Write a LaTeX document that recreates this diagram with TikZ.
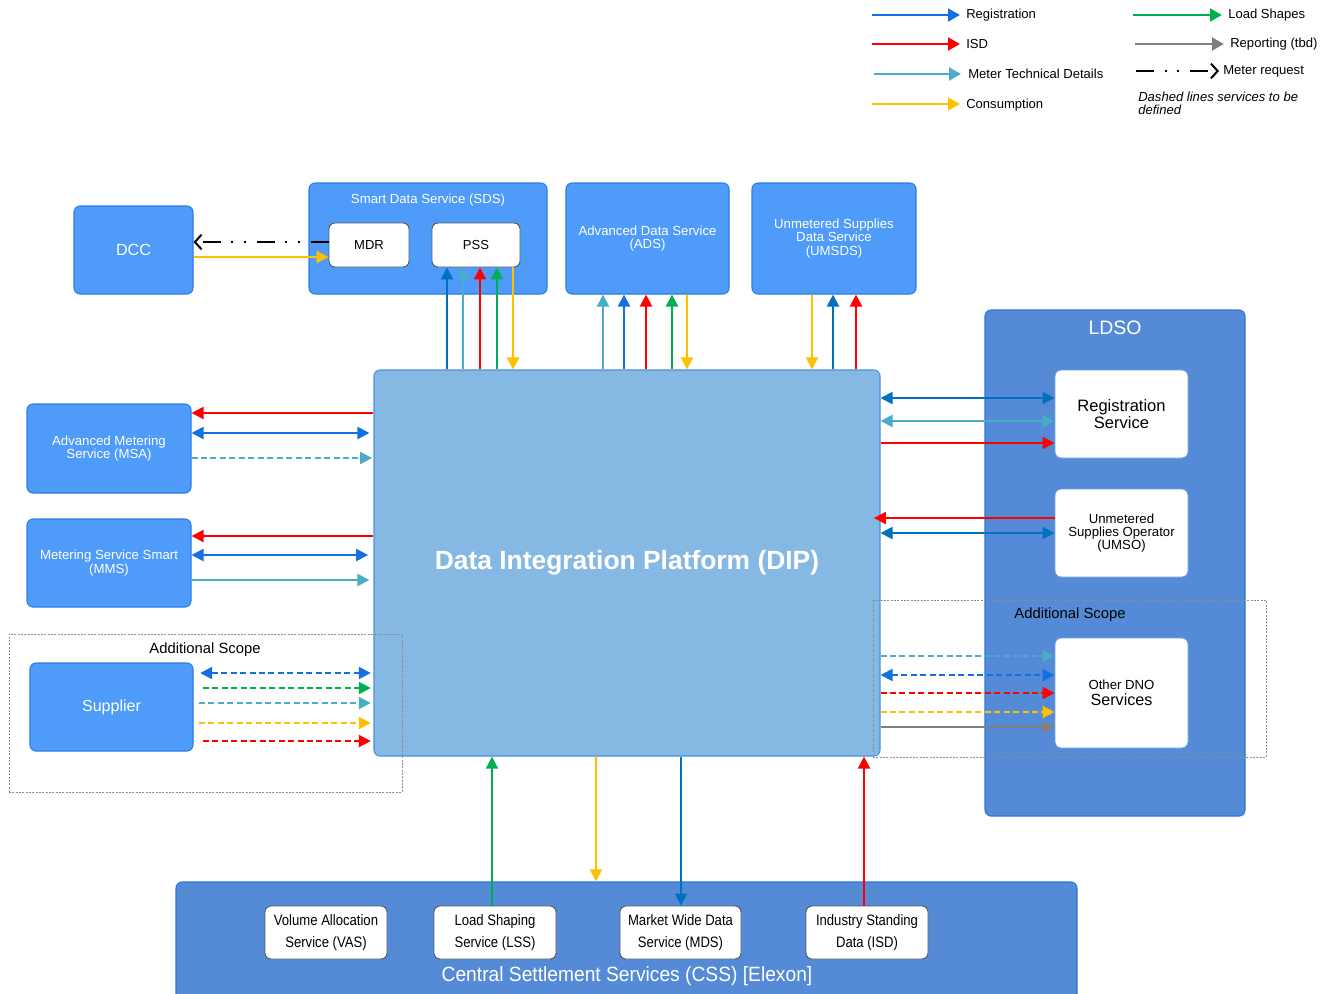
\documentclass[tikz,border=0pt]{standalone}
\usepackage{fontspec}
\setmainfont{Liberation Sans}
\usetikzlibrary{arrows.meta}

% palette
\definecolor{boxfill}{RGB}{79,155,250}
\definecolor{boxedge}{RGB}{42,125,230}
\definecolor{dipfill}{RGB}{133,184,227}
\definecolor{dipedge}{RGB}{74,144,226}
\definecolor{grpfill}{RGB}{85,139,214}
\definecolor{grpedge}{RGB}{40,120,222}
\definecolor{inedge}{RGB}{80,90,100}
\definecolor{regA}{RGB}{20,112,225}
\definecolor{regB}{RGB}{0,112,192}
\definecolor{isd}{RGB}{255,0,0}
\definecolor{mtd}{RGB}{75,172,198}
\definecolor{cons}{RGB}{255,192,0}
\definecolor{lshape}{RGB}{0,176,80}
\definecolor{report}{RGB}{128,128,128}
\definecolor{scopeline}{RGB}{140,140,140}

\newcommand\fsz[2]{\fontsize{#1}{#2}\selectfont}

\begin{document}
\begin{tikzpicture}[x=0.75pt,y=-0.75pt,
  % a node spanning the pixel box (x1,y1)-(x2,y2)
  span/.style n args={4}{at={({(#1+#3)/2},{(#2+#4)/2})},
    minimum width={(#3-#1)*0.75pt},minimum height={(#4-#2)*0.75pt}},
  bluebox/.style={draw=boxedge,fill=boxfill,rounded corners=4.5pt,line width=0.8pt,
    inner sep=0pt,text=white,align=center,font=\fsz{9.9}{9.9}},
  grpbox/.style={draw=grpedge,fill=grpfill,rounded corners=4.5pt,line width=0.8pt,inner sep=0pt},
  dipbox/.style={draw=dipedge,fill=dipfill,rounded corners=4.5pt,line width=0.8pt,inner sep=0pt,
    text=white,font=\bfseries\fsz{19.8}{22}},
  inbox/.style={draw=inedge,fill=white,rounded corners=4.5pt,line width=0.7pt,inner sep=0pt,
    align=center,font=\fsz{9.8}{10}},
  ldsobox/.style={draw=grpedge!70!white,fill=white,rounded corners=4.5pt,line width=0.7pt,
    inner sep=0pt,align=center},
  cssbox/.style={draw=inedge,fill=white,rounded corners=4.5pt,line width=0.7pt,inner sep=0pt,
    align=center,font=\fsz{11.3}{16.5}\addfontfeatures{FakeStretch=0.87}},
  scope/.style={draw=scopeline,line width=0.6pt,dash pattern=on 1.5pt off 1pt,inner sep=0pt},
  tri/.tip={Triangle[length=9pt,width=9pt]},
  link/.style={line width=1.6pt,-tri},
  both/.style={line width=1.6pt,tri-tri},
  dsh/.style={dash pattern=on 4.5pt off 2.6pt},
  meterreq/.style={line width=1.5pt,dash pattern=on 13.5pt off 8pt on 1.5pt off 8pt on 1.5pt off 8pt,
    -{Straight Barb[length=5pt,width=11pt,line width=1.5pt]}},
  legline/.style={line width=2.2pt,-{Triangle[length=9pt,width=9.5pt]}},
  legtext/.style={anchor=west,inner sep=0pt,font=\fsz{9.8}{10}}]

\useasboundingbox (0,0) rectangle (1333,993);

% ---------- legend ----------
\coordinate (l1a) at (872,15);  \coordinate (l1b) at (960,15);
\coordinate (l2a) at (872,44);  \coordinate (l2b) at (960,44);
\coordinate (l3a) at (874,74);  \coordinate (l3b) at (961,74);
\coordinate (l4a) at (872,104); \coordinate (l4b) at (960,104);
\coordinate (l5a) at (1133,15); \coordinate (l5b) at (1222,15);
\coordinate (l6a) at (1135,44); \coordinate (l6b) at (1224,44);
\coordinate (l7a) at (1136,71); \coordinate (l7b) at (1219,71);
\draw[legline,regA] (l1a) -- (l1b);
\draw[legline,isd] (l2a) -- (l2b);
\draw[legline,mtd] (l3a) -- (l3b);
\draw[legline,cons] (l4a) -- (l4b);
\draw[legline,lshape] (l5a) -- (l5b);
\draw[legline,report] (l6a) -- (l6b);
\draw[meterreq] (l7a) -- (l7b);
\node[legtext] (t1) at (966,15) {Registration};
\node[legtext] (t2) at (966,44) {ISD};
\node[legtext] (t3) at (968,74) {Meter Technical Details};
\node[legtext] (t4) at (966,105) {Consumption};
\node[legtext] (t5) at (1228,15) {Load Shapes};
\node[legtext] (t6) at (1230,44) {Reporting (tbd)};
\node[legtext] (t7) at (1223,71) {Meter request};
\node[anchor=north west,inner sep=0pt,align=left,font=\itshape\fsz{9.8}{9.8}] (t8) at (1138,92)
  {Dashed lines services to be\\defined};

% ---------- group containers ----------
\node[grpbox,span={985}{310}{1245}{816}] (ldso) {};
\node[text=white,font=\fsz{14.6}{15}] (ldsotitle) at (1115,328) {LDSO};
\node[grpbox,span={176}{882}{1077}{1010}] (css) {};
\node[text=white,font=\fsz{15.5}{16}\addfontfeatures{FakeStretch=0.93}] (csstitle) at (627,976)
  {Central Settlement Services (CSS) [Elexon]};

% ---------- top services ----------
\node[bluebox,font=\fsz{12.1}{12},span={74}{206}{193}{294}] (dcc) {DCC};
\node[bluebox,span={309}{183}{547}{294}] (sds) {};
\node[text=white,font=\fsz{9.9}{10}] (sdstitle) at (428,200) {Smart Data Service (SDS)};
\node[inbox,span={329}{223}{409}{267}] (mdr) {MDR};
\node[inbox,span={432}{223}{520}{267}] (pss) {PSS};
\node[bluebox,span={566}{183}{729}{294}] (ads) {Advanced Data Service\\(ADS)};
\node[bluebox,span={752}{183}{916}{294}] (umsds) {Unmetered Supplies\\Data Service\\(UMSDS)};

% ---------- metering services ----------
\node[bluebox,span={27}{404}{191}{493}] (msa) {Advanced Metering\\Service (MSA)};
\node[bluebox,span={27}{519}{191}{607}] (mms) {Metering Service Smart\\(MMS)};
\node[bluebox,font=\fsz{12}{12},span={30}{663}{193}{751}] (sup) {Supplier};

% ---------- platform ----------
\node[dipbox,span={374}{370}{880}{756}] (dip) {Data Integration Platform (DIP)};

% ---------- LDSO services ----------
\node[ldsobox,font=\fsz{12.4}{12.4},span={1055}{370}{1188}{458}] (rs) {Registration\\Service};
\node[ldsobox,font=\fsz{9.9}{9.8},span={1055}{489}{1188}{577}] (umso) {Unmetered\\Supplies Operator\\(UMSO)};
\node[ldsobox,span={1055}{638}{1188}{748}] (dno) {{\fsz{9.9}{11}Other DNO}\\{\fsz{12.1}{12}Services}};

% ---------- settlement services ----------
\node[cssbox,span={265}{906}{387}{959}] (vas) {Volume Allocation\\Service (VAS)};
\node[cssbox,span={434}{906}{556}{959}] (lss) {Load Shaping\\Service (LSS)};
\node[cssbox,span={620}{906}{741}{959}] (mds) {Market Wide Data\\Service (MDS)};
\node[cssbox,span={806}{906}{928}{959}] (isdb) {Industry Standing\\Data (ISD)};

% ---------- additional scope frames ----------
\node[scope,span={9}{634}{402}{792}] (scopeL) {};
\node[font=\fsz{11.1}{11}] (scopeLt) at (205,650) {Additional Scope};
\node[scope,span={873}{600}{1266}{757}] (scopeR) {};
\node[font=\fsz{11.1}{11}] (scopeRt) at (1070,615) {Additional Scope};

% ---------- DCC / SDS ----------
\draw[meterreq] (mdr.west |- 0,242) -- (dcc.east |- 0,242);
\draw[link,cons] (dcc.east |- 0,257) -- (mdr.west |- 0,257);

% ---------- DIP <-> PSS ----------
\draw[link,regB] (dip.north -| 447,0) -- (pss.south -| 447,0);
\draw[link,mtd] (dip.north -| 463,0) -- (pss.south -| 463,0);
\draw[link,isd] (dip.north -| 480,0) -- (pss.south -| 480,0);
\draw[link,lshape] (dip.north -| 497,0) -- (pss.south -| 497,0);
\draw[link,cons] (pss.south -| 513,0) -- (dip.north -| 513,0);

% ---------- DIP <-> ADS ----------
\draw[link,mtd] (dip.north -| 603,0) -- (ads.south -| 603,0);
\draw[link,regA] (dip.north -| 624,0) -- (ads.south -| 624,0);
\draw[link,isd] (dip.north -| 646,0) -- (ads.south -| 646,0);
\draw[link,lshape] (dip.north -| 672,0) -- (ads.south -| 672,0);
\draw[link,cons] (ads.south -| 687,0) -- (dip.north -| 687,0);

% ---------- DIP <-> UMSDS ----------
\draw[link,cons] (umsds.south -| 812,0) -- (dip.north -| 812,0);
\draw[link,regB] (dip.north -| 833,0) -- (umsds.south -| 833,0);
\draw[link,isd] (dip.north -| 856,0) -- (umsds.south -| 856,0);

% ---------- DIP <-> MSA / MMS ----------
\draw[link,isd] (dip.west |- 0,413) -- (msa.east |- 0,413);
\draw[both,regA] (msa.east |- 0,433) -- ([xshift=-3] dip.west |- 0,433);
\draw[link,mtd,line width=1.2pt,dsh] (msa.east |- 0,458) -- ([xshift=-1] dip.west |- 0,458);
\draw[link,isd] (dip.west |- 0,536) -- (mms.east |- 0,536);
\draw[both,regA] (mms.east |- 0,555) -- ([xshift=-4] dip.west |- 0,555);
\draw[link,mtd] (mms.east |- 0,580) -- ([xshift=-3] dip.west |- 0,580);

% ---------- Supplier -> DIP ----------
\draw[both,regA,dsh] ([xshift=5] sup.east |- 0,673) -- ([xshift=-2] dip.west |- 0,673);
\draw[link,lshape,dsh] ([xshift=7] sup.east |- 0,688) -- ([xshift=-2] dip.west |- 0,688);
\draw[link,mtd,dsh] ([xshift=4] sup.east |- 0,703) -- ([xshift=-2] dip.west |- 0,703);
\draw[link,cons,dsh] ([xshift=4] sup.east |- 0,723) -- ([xshift=-2] dip.west |- 0,723);
\draw[link,isd,dsh] ([xshift=7] sup.east |- 0,741) -- ([xshift=-2] dip.west |- 0,741);

% ---------- DIP <-> LDSO services ----------
\draw[both,regB] (dip.east |- 0,398) -- (rs.west |- 0,398);
\draw[both,mtd] (dip.east |- 0,421) -- (rs.west |- 0,421);
\draw[link,isd] (dip.east |- 0,443) -- (rs.west |- 0,443);
\draw[link,isd] (umso.west |- 0,518) -- ([xshift=-5] dip.east |- 0,518);
\draw[both,regB] (dip.east |- 0,533) -- (umso.west |- 0,533);

% ---------- DIP -> other DNO services ----------
\draw[link,mtd,dsh] (dip.east |- 0,656) -- (dno.west |- 0,656);
\draw[both,regA,dsh] (dip.east |- 0,675) -- (dno.west |- 0,675);
\draw[link,isd,dsh] (dip.east |- 0,693) -- (dno.west |- 0,693);
\draw[link,cons,dsh] (dip.east |- 0,712) -- (dno.west |- 0,712);
\draw[link,report] (dip.east |- 0,727) -- (dno.west |- 0,727);

% ---------- DIP <-> CSS ----------
\draw[link,lshape,line width=1.3pt] (lss.north -| 492,0) -- (dip.south -| 492,0);
\draw[link,cons,line width=1.3pt] (dip.south -| 596,0) -- (css.north -| 596,0);
\draw[link,regB,line width=1.3pt] (dip.south -| 681,0) -- (mds.north -| 681,0);
\draw[link,isd,line width=1.3pt] (isdb.north -| 864,0) -- (dip.south -| 864,0);

\end{tikzpicture}
\end{document}
